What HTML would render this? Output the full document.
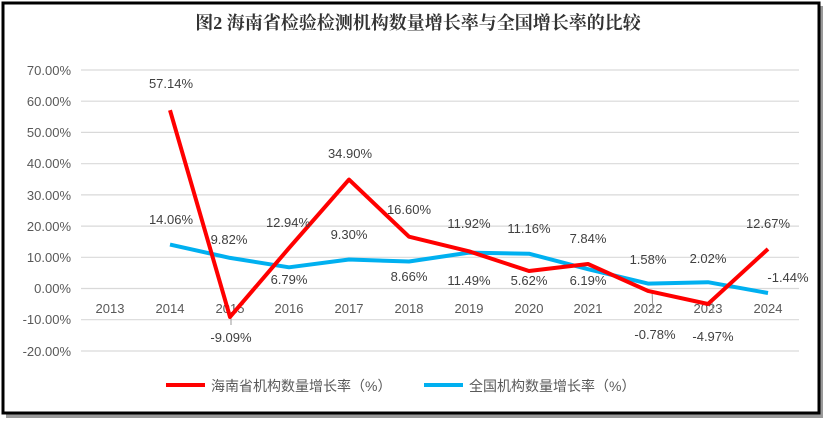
<!DOCTYPE html>
<html><head><meta charset="utf-8"><style>
body{margin:0;background:#fff;width:833px;height:426px;overflow:hidden}
text{font-family:"Liberation Sans","Noto Sans CJK SC",sans-serif}
</style></head><body>
<svg width="833" height="426" xmlns="http://www.w3.org/2000/svg">
<rect x="6" y="6" width="817" height="412" fill="#999"/>
<rect x="3" y="3" width="816" height="410" fill="#fff" stroke="#000" stroke-width="3"/>
<text x="418" y="29" text-anchor="middle" font-size="18" font-weight="bold" fill="#333" style="font-family:'Liberation Serif','Noto Serif CJK SC',serif">图2 海南省检验检测机构数量增长率与全国增长率的比较</text>
<g stroke="#d9d9d9" stroke-width="1.2">
<line x1="81" x2="799" y1="70" y2="70"/><line x1="81" x2="799" y1="101.2" y2="101.2"/><line x1="81" x2="799" y1="132.4" y2="132.4"/><line x1="81" x2="799" y1="163.7" y2="163.7"/><line x1="81" x2="799" y1="194.9" y2="194.9"/><line x1="81" x2="799" y1="226.1" y2="226.1"/><line x1="81" x2="799" y1="257.3" y2="257.3"/><line x1="81" x2="799" y1="288.5" y2="288.5"/><line x1="81" x2="799" y1="319.7" y2="319.7"/><line x1="81" x2="799" y1="351" y2="351"/>
</g>
<g font-size="13" fill="#595959" text-anchor="end">
<text x="71" y="75">70.00%</text><text x="71" y="106">60.00%</text><text x="71" y="137">50.00%</text><text x="71" y="168">40.00%</text><text x="71" y="200">30.00%</text><text x="71" y="231">20.00%</text><text x="71" y="262">10.00%</text><text x="71" y="293">0.00%</text><text x="71" y="324">-10.00%</text><text x="71" y="356">-20.00%</text>
</g>
<g font-size="13" fill="#595959" text-anchor="middle">
<text x="110" y="313">2013</text><text x="170" y="313">2014</text><text x="230" y="313">2015</text><text x="289" y="313">2016</text><text x="349" y="313">2017</text><text x="409" y="313">2018</text><text x="469" y="313">2019</text><text x="529" y="313">2020</text><text x="588" y="313">2021</text><text x="648" y="313">2022</text><text x="708" y="313">2023</text><text x="768" y="313">2024</text>
</g>
<g stroke="#999" stroke-width="1">
<line x1="231" y1="318" x2="231" y2="325"/><line x1="652" y1="290" x2="653" y2="313"/><line x1="712" y1="301" x2="713" y2="313"/>
</g>
<polyline fill="none" stroke="#00b0f0" stroke-width="4" stroke-linejoin="round" points="170,244.6 230,257.9 289,267.3 349,259.5 409,261.5 469,252.6 529,253.7 588,269.2 648,283.6 708,282.2 768,293"/>
<polyline fill="none" stroke="#ff0000" stroke-width="4" stroke-linejoin="round" points="170,110.2 230,316.9 289,248.1 349,179.6 409,236.7 469,251.3 529,271 588,264 648,290.9 708,304 768,249"/>
<g font-size="13" fill="#404040" text-anchor="middle">
<text x="171" y="88">57.14%</text><text x="231" y="342">-9.09%</text><text x="288" y="227">12.94%</text><text x="350" y="158">34.90%</text><text x="409" y="214">16.60%</text><text x="469" y="228">11.92%</text><text x="529" y="285">5.62%</text><text x="588" y="243">7.84%</text><text x="655" y="339">-0.78%</text><text x="713" y="341">-4.97%</text><text x="768" y="228">12.67%</text>
<text x="171" y="224">14.06%</text><text x="229" y="244">9.82%</text><text x="289" y="284">6.79%</text><text x="349" y="239">9.30%</text><text x="409" y="281">8.66%</text><text x="469" y="285">11.49%</text><text x="529" y="233">11.16%</text><text x="588" y="285">6.19%</text><text x="648" y="264">1.58%</text><text x="708" y="263">2.02%</text><text x="788" y="282">-1.44%</text>
</g>
<line x1="166" y1="385" x2="205" y2="385" stroke="#ff0000" stroke-width="4"/>
<text x="211" y="391" font-size="14" fill="#595959">海南省机构数量增长率（%）</text>
<line x1="424" y1="385" x2="463" y2="385" stroke="#00b0f0" stroke-width="4"/>
<text x="469" y="391" font-size="14" fill="#595959">全国机构数量增长率（%）</text>
</svg>
</body></html>
